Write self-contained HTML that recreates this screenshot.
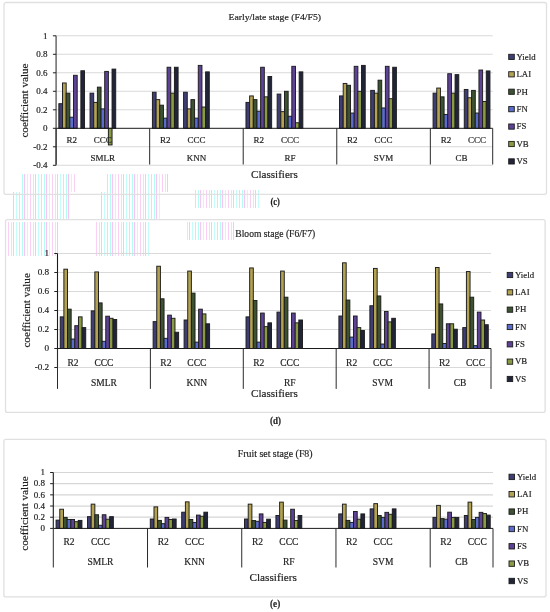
<!DOCTYPE html>
<html><head><meta charset="utf-8"><title>Coefficient values by classifier</title>
<style>
html,body{margin:0;padding:0;background:#fff;}
body{width:550px;height:612px;overflow:hidden;}
svg{display:block;font-family:"Liberation Serif",serif;filter:blur(0.3px);}
text{stroke:#1e1e1e;stroke-width:0.18px;}
</style></head><body>
<svg width="550" height="612" viewBox="0 0 550 612">
<defs><pattern id="streak" x="0" y="0" width="11" height="8" patternUnits="userSpaceOnUse">
<rect x="0" y="0" width="1" height="8" fill="#b4fcf6"/><rect x="2" y="0" width="1" height="8" fill="#fcc4f2"/><rect x="5" y="0" width="1" height="8" fill="#c4fcfa"/><rect x="8" y="0" width="1" height="8" fill="#fcd0f4"/>
</pattern></defs>
<rect width="550" height="612" fill="#fff"/>
<rect x="22" y="174" width="54" height="18" fill="url(#streak)"/>
<rect x="105" y="174" width="65" height="18" fill="url(#streak)"/>
<rect x="12" y="192" width="58" height="28" fill="url(#streak)"/>
<rect x="100" y="192" width="60" height="28" fill="url(#streak)"/>
<rect x="195" y="190" width="65" height="18" fill="url(#streak)"/>
<rect x="5" y="222" width="55" height="34" fill="url(#streak)"/>
<rect x="95" y="222" width="55" height="34" fill="url(#streak)"/>
<rect x="185" y="222" width="50" height="18" fill="url(#streak)"/>
<rect x="4.00" y="2.50" width="542.50" height="191.80" rx="2" fill="none" stroke="#e0e0e0" stroke-width="1.3"/>
<text x="228.50" y="19.90" font-size="9.2" fill="#1e1e1e" textLength="92.50" lengthAdjust="spacingAndGlyphs">Early/late stage (F4/F5)</text>
<line x1="56.1" y1="165.30" x2="492.7" y2="165.30" stroke="#d9d9d9" stroke-width="1.1"/>
<line x1="56.1" y1="146.80" x2="492.7" y2="146.80" stroke="#d9d9d9" stroke-width="1.1"/>
<line x1="56.1" y1="109.80" x2="492.7" y2="109.80" stroke="#d9d9d9" stroke-width="1.1"/>
<line x1="56.1" y1="91.30" x2="492.7" y2="91.30" stroke="#d9d9d9" stroke-width="1.1"/>
<line x1="56.1" y1="72.80" x2="492.7" y2="72.80" stroke="#d9d9d9" stroke-width="1.1"/>
<line x1="56.1" y1="54.30" x2="492.7" y2="54.30" stroke="#d9d9d9" stroke-width="1.1"/>
<line x1="56.1" y1="35.80" x2="492.7" y2="35.80" stroke="#d9d9d9" stroke-width="1.1"/>
<rect x="58.85" y="103.70" width="3.67" height="24.61" fill="#3e3e74" stroke="#1c1c1c" stroke-width="0.95"/>
<rect x="62.52" y="82.98" width="3.67" height="45.33" fill="#b2a252" stroke="#1c1c1c" stroke-width="0.95"/>
<rect x="66.19" y="93.15" width="3.67" height="35.15" fill="#3c5230" stroke="#1c1c1c" stroke-width="0.95"/>
<rect x="69.86" y="117.20" width="3.67" height="11.10" fill="#5a6ccc" stroke="#1c1c1c" stroke-width="0.95"/>
<rect x="73.53" y="75.30" width="3.67" height="53.00" fill="#5e4296" stroke="#1c1c1c" stroke-width="0.95"/>
<rect x="80.87" y="70.77" width="3.67" height="57.54" fill="#22253a" stroke="#1c1c1c" stroke-width="0.95"/>
<rect x="90.04" y="93.15" width="3.67" height="35.15" fill="#3e3e74" stroke="#1c1c1c" stroke-width="0.95"/>
<rect x="93.71" y="102.40" width="3.67" height="25.90" fill="#b2a252" stroke="#1c1c1c" stroke-width="0.95"/>
<rect x="97.38" y="87.14" width="3.67" height="41.16" fill="#3c5230" stroke="#1c1c1c" stroke-width="0.95"/>
<rect x="101.04" y="108.88" width="3.67" height="19.42" fill="#5a6ccc" stroke="#1c1c1c" stroke-width="0.95"/>
<rect x="104.71" y="71.41" width="3.67" height="56.89" fill="#5e4296" stroke="#1c1c1c" stroke-width="0.95"/>
<rect x="108.38" y="128.30" width="3.67" height="16.65" fill="#889a42" stroke="#1c1c1c" stroke-width="0.95"/>
<rect x="112.05" y="69.10" width="3.67" height="59.20" fill="#22253a" stroke="#1c1c1c" stroke-width="0.95"/>
<rect x="152.41" y="92.22" width="3.67" height="36.08" fill="#3e3e74" stroke="#1c1c1c" stroke-width="0.95"/>
<rect x="156.08" y="99.62" width="3.67" height="28.68" fill="#b2a252" stroke="#1c1c1c" stroke-width="0.95"/>
<rect x="159.75" y="105.18" width="3.67" height="23.12" fill="#3c5230" stroke="#1c1c1c" stroke-width="0.95"/>
<rect x="163.42" y="118.13" width="3.67" height="10.17" fill="#5a6ccc" stroke="#1c1c1c" stroke-width="0.95"/>
<rect x="167.08" y="67.25" width="3.67" height="61.05" fill="#5e4296" stroke="#1c1c1c" stroke-width="0.95"/>
<rect x="170.75" y="93.15" width="3.67" height="35.15" fill="#889a42" stroke="#1c1c1c" stroke-width="0.95"/>
<rect x="174.42" y="67.25" width="3.67" height="61.05" fill="#22253a" stroke="#1c1c1c" stroke-width="0.95"/>
<rect x="183.59" y="92.22" width="3.67" height="36.08" fill="#3e3e74" stroke="#1c1c1c" stroke-width="0.95"/>
<rect x="187.26" y="108.88" width="3.67" height="19.42" fill="#b2a252" stroke="#1c1c1c" stroke-width="0.95"/>
<rect x="190.93" y="99.62" width="3.67" height="28.68" fill="#3c5230" stroke="#1c1c1c" stroke-width="0.95"/>
<rect x="194.60" y="118.13" width="3.67" height="10.17" fill="#5a6ccc" stroke="#1c1c1c" stroke-width="0.95"/>
<rect x="198.27" y="65.40" width="3.67" height="62.90" fill="#5e4296" stroke="#1c1c1c" stroke-width="0.95"/>
<rect x="201.94" y="107.03" width="3.67" height="21.28" fill="#889a42" stroke="#1c1c1c" stroke-width="0.95"/>
<rect x="205.61" y="71.88" width="3.67" height="56.43" fill="#22253a" stroke="#1c1c1c" stroke-width="0.95"/>
<rect x="245.97" y="102.40" width="3.67" height="25.90" fill="#3e3e74" stroke="#1c1c1c" stroke-width="0.95"/>
<rect x="249.63" y="95.93" width="3.67" height="32.38" fill="#b2a252" stroke="#1c1c1c" stroke-width="0.95"/>
<rect x="253.30" y="99.62" width="3.67" height="28.68" fill="#3c5230" stroke="#1c1c1c" stroke-width="0.95"/>
<rect x="256.97" y="111.19" width="3.67" height="17.11" fill="#5a6ccc" stroke="#1c1c1c" stroke-width="0.95"/>
<rect x="260.64" y="67.25" width="3.67" height="61.05" fill="#5e4296" stroke="#1c1c1c" stroke-width="0.95"/>
<rect x="264.31" y="96.85" width="3.67" height="31.45" fill="#889a42" stroke="#1c1c1c" stroke-width="0.95"/>
<rect x="267.98" y="76.50" width="3.67" height="51.80" fill="#22253a" stroke="#1c1c1c" stroke-width="0.95"/>
<rect x="277.15" y="94.08" width="3.67" height="34.22" fill="#3e3e74" stroke="#1c1c1c" stroke-width="0.95"/>
<rect x="280.82" y="111.65" width="3.67" height="16.65" fill="#b2a252" stroke="#1c1c1c" stroke-width="0.95"/>
<rect x="284.49" y="91.30" width="3.67" height="37.00" fill="#3c5230" stroke="#1c1c1c" stroke-width="0.95"/>
<rect x="288.16" y="116.28" width="3.67" height="12.03" fill="#5a6ccc" stroke="#1c1c1c" stroke-width="0.95"/>
<rect x="291.83" y="66.32" width="3.67" height="61.98" fill="#5e4296" stroke="#1c1c1c" stroke-width="0.95"/>
<rect x="295.50" y="122.75" width="3.67" height="5.55" fill="#889a42" stroke="#1c1c1c" stroke-width="0.95"/>
<rect x="299.17" y="71.88" width="3.67" height="56.43" fill="#22253a" stroke="#1c1c1c" stroke-width="0.95"/>
<rect x="339.52" y="95.93" width="3.67" height="32.38" fill="#3e3e74" stroke="#1c1c1c" stroke-width="0.95"/>
<rect x="343.19" y="83.44" width="3.67" height="44.86" fill="#b2a252" stroke="#1c1c1c" stroke-width="0.95"/>
<rect x="346.86" y="85.29" width="3.67" height="43.01" fill="#3c5230" stroke="#1c1c1c" stroke-width="0.95"/>
<rect x="350.53" y="113.04" width="3.67" height="15.26" fill="#5a6ccc" stroke="#1c1c1c" stroke-width="0.95"/>
<rect x="354.20" y="66.32" width="3.67" height="61.98" fill="#5e4296" stroke="#1c1c1c" stroke-width="0.95"/>
<rect x="357.87" y="91.30" width="3.67" height="37.00" fill="#889a42" stroke="#1c1c1c" stroke-width="0.95"/>
<rect x="361.54" y="65.40" width="3.67" height="62.90" fill="#22253a" stroke="#1c1c1c" stroke-width="0.95"/>
<rect x="370.71" y="90.38" width="3.67" height="37.93" fill="#3e3e74" stroke="#1c1c1c" stroke-width="0.95"/>
<rect x="374.38" y="93.15" width="3.67" height="35.15" fill="#b2a252" stroke="#1c1c1c" stroke-width="0.95"/>
<rect x="378.05" y="80.20" width="3.67" height="48.10" fill="#3c5230" stroke="#1c1c1c" stroke-width="0.95"/>
<rect x="381.72" y="107.95" width="3.67" height="20.35" fill="#5a6ccc" stroke="#1c1c1c" stroke-width="0.95"/>
<rect x="385.38" y="66.32" width="3.67" height="61.98" fill="#5e4296" stroke="#1c1c1c" stroke-width="0.95"/>
<rect x="389.05" y="98.70" width="3.67" height="29.60" fill="#889a42" stroke="#1c1c1c" stroke-width="0.95"/>
<rect x="392.72" y="67.25" width="3.67" height="61.05" fill="#22253a" stroke="#1c1c1c" stroke-width="0.95"/>
<rect x="433.08" y="93.15" width="3.67" height="35.15" fill="#3e3e74" stroke="#1c1c1c" stroke-width="0.95"/>
<rect x="436.75" y="88.06" width="3.67" height="40.24" fill="#b2a252" stroke="#1c1c1c" stroke-width="0.95"/>
<rect x="440.42" y="96.85" width="3.67" height="31.45" fill="#3c5230" stroke="#1c1c1c" stroke-width="0.95"/>
<rect x="444.09" y="114.43" width="3.67" height="13.88" fill="#5a6ccc" stroke="#1c1c1c" stroke-width="0.95"/>
<rect x="447.76" y="73.73" width="3.67" height="54.58" fill="#5e4296" stroke="#1c1c1c" stroke-width="0.95"/>
<rect x="451.42" y="93.15" width="3.67" height="35.15" fill="#889a42" stroke="#1c1c1c" stroke-width="0.95"/>
<rect x="455.09" y="74.65" width="3.67" height="53.65" fill="#22253a" stroke="#1c1c1c" stroke-width="0.95"/>
<rect x="464.27" y="89.45" width="3.67" height="38.85" fill="#3e3e74" stroke="#1c1c1c" stroke-width="0.95"/>
<rect x="467.93" y="97.78" width="3.67" height="30.53" fill="#b2a252" stroke="#1c1c1c" stroke-width="0.95"/>
<rect x="471.60" y="90.38" width="3.67" height="37.93" fill="#3c5230" stroke="#1c1c1c" stroke-width="0.95"/>
<rect x="475.27" y="113.04" width="3.67" height="15.26" fill="#5a6ccc" stroke="#1c1c1c" stroke-width="0.95"/>
<rect x="478.94" y="70.03" width="3.67" height="58.28" fill="#5e4296" stroke="#1c1c1c" stroke-width="0.95"/>
<rect x="482.61" y="101.48" width="3.67" height="26.83" fill="#889a42" stroke="#1c1c1c" stroke-width="0.95"/>
<rect x="486.28" y="70.95" width="3.67" height="57.35" fill="#22253a" stroke="#1c1c1c" stroke-width="0.95"/>
<line x1="56.1" y1="35.80" x2="56.1" y2="165.30" stroke="#6a6a6a" stroke-width="1.5"/>
<line x1="52.90" y1="165.30" x2="56.1" y2="165.30" stroke="#222" stroke-width="1"/>
<line x1="52.90" y1="146.80" x2="56.1" y2="146.80" stroke="#222" stroke-width="1"/>
<line x1="52.90" y1="128.30" x2="56.1" y2="128.30" stroke="#222" stroke-width="1"/>
<line x1="52.90" y1="109.80" x2="56.1" y2="109.80" stroke="#222" stroke-width="1"/>
<line x1="52.90" y1="91.30" x2="56.1" y2="91.30" stroke="#222" stroke-width="1"/>
<line x1="52.90" y1="72.80" x2="56.1" y2="72.80" stroke="#222" stroke-width="1"/>
<line x1="52.90" y1="54.30" x2="56.1" y2="54.30" stroke="#222" stroke-width="1"/>
<line x1="52.90" y1="35.80" x2="56.1" y2="35.80" stroke="#222" stroke-width="1"/>
<text x="47.5" y="168.00" font-size="9" text-anchor="end" fill="#1e1e1e">-0.4</text>
<text x="47.5" y="149.50" font-size="9" text-anchor="end" fill="#1e1e1e">-0.2</text>
<text x="47.5" y="131.00" font-size="9" text-anchor="end" fill="#1e1e1e">0</text>
<text x="47.5" y="112.50" font-size="9" text-anchor="end" fill="#1e1e1e">0.2</text>
<text x="47.5" y="94.00" font-size="9" text-anchor="end" fill="#1e1e1e">0.4</text>
<text x="47.5" y="75.50" font-size="9" text-anchor="end" fill="#1e1e1e">0.6</text>
<text x="47.5" y="57.00" font-size="9" text-anchor="end" fill="#1e1e1e">0.8</text>
<text x="47.5" y="38.50" font-size="9" text-anchor="end" fill="#1e1e1e">1</text>
<line x1="56.1" y1="128.30" x2="492.7" y2="128.30" stroke="#1a1a1a" stroke-width="1"/>
<line x1="56.10" y1="128.30" x2="56.10" y2="164.5" stroke="#2a2a2a" stroke-width="1"/>
<line x1="149.66" y1="128.30" x2="149.66" y2="164.5" stroke="#2a2a2a" stroke-width="1"/>
<line x1="243.21" y1="128.30" x2="243.21" y2="164.5" stroke="#2a2a2a" stroke-width="1"/>
<line x1="336.77" y1="128.30" x2="336.77" y2="164.5" stroke="#2a2a2a" stroke-width="1"/>
<line x1="430.33" y1="128.30" x2="430.33" y2="164.5" stroke="#2a2a2a" stroke-width="1"/>
<line x1="492.70" y1="128.30" x2="492.70" y2="164.5" stroke="#2a2a2a" stroke-width="1"/>
<text x="71.69" y="143.30" font-size="9" text-anchor="middle" fill="#1e1e1e">R2</text>
<text x="102.88" y="143.30" font-size="9" text-anchor="middle" fill="#1e1e1e">CCC</text>
<text x="102.88" y="161.10" font-size="9" text-anchor="middle" fill="#1e1e1e">SMLR</text>
<text x="165.25" y="143.30" font-size="9" text-anchor="middle" fill="#1e1e1e">R2</text>
<text x="196.44" y="143.30" font-size="9" text-anchor="middle" fill="#1e1e1e">CCC</text>
<text x="196.44" y="161.10" font-size="9" text-anchor="middle" fill="#1e1e1e">KNN</text>
<text x="258.81" y="143.30" font-size="9" text-anchor="middle" fill="#1e1e1e">R2</text>
<text x="289.99" y="143.30" font-size="9" text-anchor="middle" fill="#1e1e1e">CCC</text>
<text x="289.99" y="161.10" font-size="9" text-anchor="middle" fill="#1e1e1e">RF</text>
<text x="352.36" y="143.30" font-size="9" text-anchor="middle" fill="#1e1e1e">R2</text>
<text x="383.55" y="143.30" font-size="9" text-anchor="middle" fill="#1e1e1e">CCC</text>
<text x="383.55" y="161.10" font-size="9" text-anchor="middle" fill="#1e1e1e">SVM</text>
<text x="445.92" y="143.30" font-size="9" text-anchor="middle" fill="#1e1e1e">R2</text>
<text x="477.11" y="143.30" font-size="9" text-anchor="middle" fill="#1e1e1e">CCC</text>
<text x="461.51" y="161.10" font-size="9" text-anchor="middle" fill="#1e1e1e">CB</text>
<text x="251.00" y="178.40" font-size="11" fill="#1e1e1e" textLength="46.90" lengthAdjust="spacingAndGlyphs">Classifiers</text>
<text transform="translate(28.00,137.60) rotate(-90)" x="0" y="0" font-size="10" textLength="74.10" lengthAdjust="spacingAndGlyphs" fill="#1e1e1e">coefficient value</text>
<rect x="508.70" y="54.30" width="5.6" height="5.2" fill="#3e3e74" stroke="#1c1c1c" stroke-width="0.9"/>
<text x="516.5" y="59.70" font-size="8.8" fill="#1e1e1e">Yield</text>
<rect x="508.70" y="71.72" width="5.6" height="5.2" fill="#b2a252" stroke="#1c1c1c" stroke-width="0.9"/>
<text x="516.5" y="77.12" font-size="8.8" fill="#1e1e1e">LAI</text>
<rect x="508.70" y="89.14" width="5.6" height="5.2" fill="#3c5230" stroke="#1c1c1c" stroke-width="0.9"/>
<text x="516.5" y="94.54" font-size="8.8" fill="#1e1e1e">PH</text>
<rect x="508.70" y="106.56" width="5.6" height="5.2" fill="#5a6ccc" stroke="#1c1c1c" stroke-width="0.9"/>
<text x="516.5" y="111.96" font-size="8.8" fill="#1e1e1e">FN</text>
<rect x="508.70" y="123.98" width="5.6" height="5.2" fill="#5e4296" stroke="#1c1c1c" stroke-width="0.9"/>
<text x="516.5" y="129.38" font-size="8.8" fill="#1e1e1e">FS</text>
<rect x="508.70" y="141.40" width="5.6" height="5.2" fill="#889a42" stroke="#1c1c1c" stroke-width="0.9"/>
<text x="516.5" y="146.80" font-size="8.8" fill="#1e1e1e">VB</text>
<rect x="508.70" y="158.82" width="5.6" height="5.2" fill="#22253a" stroke="#1c1c1c" stroke-width="0.9"/>
<text x="516.5" y="164.22" font-size="8.8" fill="#1e1e1e">VS</text>
<text x="270.40" y="205.30" font-size="10.5" font-weight="bold" fill="#1e1e1e" textLength="9.50" lengthAdjust="spacingAndGlyphs">(c)</text>
<rect x="5.50" y="219.70" width="539.60" height="192.70" rx="2" fill="none" stroke="#e0e0e0" stroke-width="1.3"/>
<text x="235.30" y="237.30" font-size="9.6" fill="#1e1e1e" textLength="79.90" lengthAdjust="spacingAndGlyphs">Bloom stage (F6/F7)</text>
<line x1="57.5" y1="367.50" x2="491.0" y2="367.50" stroke="#d9d9d9" stroke-width="1.1"/>
<line x1="57.5" y1="329.50" x2="491.0" y2="329.50" stroke="#d9d9d9" stroke-width="1.1"/>
<line x1="57.5" y1="310.50" x2="491.0" y2="310.50" stroke="#d9d9d9" stroke-width="1.1"/>
<line x1="57.5" y1="291.50" x2="491.0" y2="291.50" stroke="#d9d9d9" stroke-width="1.1"/>
<line x1="57.5" y1="272.50" x2="491.0" y2="272.50" stroke="#d9d9d9" stroke-width="1.1"/>
<line x1="57.5" y1="253.50" x2="491.0" y2="253.50" stroke="#d9d9d9" stroke-width="1.1"/>
<rect x="60.23" y="316.87" width="3.64" height="31.63" fill="#3e3e74" stroke="#1c1c1c" stroke-width="0.95"/>
<rect x="63.88" y="269.18" width="3.64" height="79.32" fill="#b2a252" stroke="#1c1c1c" stroke-width="0.95"/>
<rect x="67.52" y="309.17" width="3.64" height="39.33" fill="#3c5230" stroke="#1c1c1c" stroke-width="0.95"/>
<rect x="71.16" y="339.00" width="3.64" height="9.50" fill="#5a6ccc" stroke="#1c1c1c" stroke-width="0.95"/>
<rect x="74.80" y="325.70" width="3.64" height="22.80" fill="#5e4296" stroke="#1c1c1c" stroke-width="0.95"/>
<rect x="78.45" y="316.87" width="3.64" height="31.63" fill="#889a42" stroke="#1c1c1c" stroke-width="0.95"/>
<rect x="82.09" y="327.60" width="3.64" height="20.90" fill="#22253a" stroke="#1c1c1c" stroke-width="0.95"/>
<rect x="91.20" y="310.88" width="3.64" height="37.62" fill="#3e3e74" stroke="#1c1c1c" stroke-width="0.95"/>
<rect x="94.84" y="271.93" width="3.64" height="76.57" fill="#b2a252" stroke="#1c1c1c" stroke-width="0.95"/>
<rect x="98.48" y="302.90" width="3.64" height="45.60" fill="#3c5230" stroke="#1c1c1c" stroke-width="0.95"/>
<rect x="102.13" y="341.28" width="3.64" height="7.22" fill="#5a6ccc" stroke="#1c1c1c" stroke-width="0.95"/>
<rect x="105.77" y="316.20" width="3.64" height="32.30" fill="#5e4296" stroke="#1c1c1c" stroke-width="0.95"/>
<rect x="109.41" y="318.29" width="3.64" height="30.21" fill="#889a42" stroke="#1c1c1c" stroke-width="0.95"/>
<rect x="113.05" y="319.52" width="3.64" height="28.98" fill="#22253a" stroke="#1c1c1c" stroke-width="0.95"/>
<rect x="153.12" y="321.62" width="3.64" height="26.88" fill="#3e3e74" stroke="#1c1c1c" stroke-width="0.95"/>
<rect x="156.77" y="266.23" width="3.64" height="82.27" fill="#b2a252" stroke="#1c1c1c" stroke-width="0.95"/>
<rect x="160.41" y="298.81" width="3.64" height="49.69" fill="#3c5230" stroke="#1c1c1c" stroke-width="0.95"/>
<rect x="164.05" y="338.33" width="3.64" height="10.17" fill="#5a6ccc" stroke="#1c1c1c" stroke-width="0.95"/>
<rect x="167.70" y="315.15" width="3.64" height="33.35" fill="#5e4296" stroke="#1c1c1c" stroke-width="0.95"/>
<rect x="171.34" y="318.29" width="3.64" height="30.21" fill="#889a42" stroke="#1c1c1c" stroke-width="0.95"/>
<rect x="174.98" y="332.25" width="3.64" height="16.25" fill="#22253a" stroke="#1c1c1c" stroke-width="0.95"/>
<rect x="184.09" y="320.00" width="3.64" height="28.50" fill="#3e3e74" stroke="#1c1c1c" stroke-width="0.95"/>
<rect x="187.73" y="271.07" width="3.64" height="77.43" fill="#b2a252" stroke="#1c1c1c" stroke-width="0.95"/>
<rect x="191.38" y="293.12" width="3.64" height="55.38" fill="#3c5230" stroke="#1c1c1c" stroke-width="0.95"/>
<rect x="195.02" y="342.13" width="3.64" height="6.37" fill="#5a6ccc" stroke="#1c1c1c" stroke-width="0.95"/>
<rect x="198.66" y="309.17" width="3.64" height="39.33" fill="#5e4296" stroke="#1c1c1c" stroke-width="0.95"/>
<rect x="202.30" y="313.92" width="3.64" height="34.58" fill="#889a42" stroke="#1c1c1c" stroke-width="0.95"/>
<rect x="205.95" y="323.80" width="3.64" height="24.70" fill="#22253a" stroke="#1c1c1c" stroke-width="0.95"/>
<rect x="246.02" y="316.87" width="3.64" height="31.63" fill="#3e3e74" stroke="#1c1c1c" stroke-width="0.95"/>
<rect x="249.66" y="267.94" width="3.64" height="80.56" fill="#b2a252" stroke="#1c1c1c" stroke-width="0.95"/>
<rect x="253.30" y="300.52" width="3.64" height="47.98" fill="#3c5230" stroke="#1c1c1c" stroke-width="0.95"/>
<rect x="256.95" y="342.13" width="3.64" height="6.37" fill="#5a6ccc" stroke="#1c1c1c" stroke-width="0.95"/>
<rect x="260.59" y="313.06" width="3.64" height="35.44" fill="#5e4296" stroke="#1c1c1c" stroke-width="0.95"/>
<rect x="264.23" y="326.65" width="3.64" height="21.85" fill="#889a42" stroke="#1c1c1c" stroke-width="0.95"/>
<rect x="267.88" y="322.85" width="3.64" height="25.65" fill="#22253a" stroke="#1c1c1c" stroke-width="0.95"/>
<rect x="276.98" y="312.12" width="3.64" height="36.38" fill="#3e3e74" stroke="#1c1c1c" stroke-width="0.95"/>
<rect x="280.62" y="271.07" width="3.64" height="77.43" fill="#b2a252" stroke="#1c1c1c" stroke-width="0.95"/>
<rect x="284.27" y="297.20" width="3.64" height="51.30" fill="#3c5230" stroke="#1c1c1c" stroke-width="0.95"/>
<rect x="287.91" y="348.02" width="3.64" height="0.48" fill="#5a6ccc" stroke="#1c1c1c" stroke-width="0.95"/>
<rect x="291.55" y="313.06" width="3.64" height="35.44" fill="#5e4296" stroke="#1c1c1c" stroke-width="0.95"/>
<rect x="295.20" y="322.85" width="3.64" height="25.65" fill="#889a42" stroke="#1c1c1c" stroke-width="0.95"/>
<rect x="298.84" y="320.00" width="3.64" height="28.50" fill="#22253a" stroke="#1c1c1c" stroke-width="0.95"/>
<rect x="338.91" y="316.01" width="3.64" height="32.49" fill="#3e3e74" stroke="#1c1c1c" stroke-width="0.95"/>
<rect x="342.55" y="262.81" width="3.64" height="85.69" fill="#b2a252" stroke="#1c1c1c" stroke-width="0.95"/>
<rect x="346.20" y="300.05" width="3.64" height="48.45" fill="#3c5230" stroke="#1c1c1c" stroke-width="0.95"/>
<rect x="349.84" y="337.10" width="3.64" height="11.40" fill="#5a6ccc" stroke="#1c1c1c" stroke-width="0.95"/>
<rect x="353.48" y="316.01" width="3.64" height="32.49" fill="#5e4296" stroke="#1c1c1c" stroke-width="0.95"/>
<rect x="357.12" y="327.60" width="3.64" height="20.90" fill="#889a42" stroke="#1c1c1c" stroke-width="0.95"/>
<rect x="360.77" y="330.45" width="3.64" height="18.05" fill="#22253a" stroke="#1c1c1c" stroke-width="0.95"/>
<rect x="369.88" y="305.75" width="3.64" height="42.75" fill="#3e3e74" stroke="#1c1c1c" stroke-width="0.95"/>
<rect x="373.52" y="268.42" width="3.64" height="80.08" fill="#b2a252" stroke="#1c1c1c" stroke-width="0.95"/>
<rect x="377.16" y="295.96" width="3.64" height="52.54" fill="#3c5230" stroke="#1c1c1c" stroke-width="0.95"/>
<rect x="380.80" y="344.04" width="3.64" height="4.46" fill="#5a6ccc" stroke="#1c1c1c" stroke-width="0.95"/>
<rect x="384.45" y="311.45" width="3.64" height="37.05" fill="#5e4296" stroke="#1c1c1c" stroke-width="0.95"/>
<rect x="388.09" y="321.90" width="3.64" height="26.60" fill="#889a42" stroke="#1c1c1c" stroke-width="0.95"/>
<rect x="391.73" y="318.29" width="3.64" height="30.21" fill="#22253a" stroke="#1c1c1c" stroke-width="0.95"/>
<rect x="431.80" y="333.96" width="3.64" height="14.54" fill="#3e3e74" stroke="#1c1c1c" stroke-width="0.95"/>
<rect x="435.45" y="267.47" width="3.64" height="81.03" fill="#b2a252" stroke="#1c1c1c" stroke-width="0.95"/>
<rect x="439.09" y="303.94" width="3.64" height="44.56" fill="#3c5230" stroke="#1c1c1c" stroke-width="0.95"/>
<rect x="442.73" y="343.46" width="3.64" height="5.04" fill="#5a6ccc" stroke="#1c1c1c" stroke-width="0.95"/>
<rect x="446.37" y="323.80" width="3.64" height="24.70" fill="#5e4296" stroke="#1c1c1c" stroke-width="0.95"/>
<rect x="450.02" y="323.80" width="3.64" height="24.70" fill="#889a42" stroke="#1c1c1c" stroke-width="0.95"/>
<rect x="453.66" y="329.21" width="3.64" height="19.29" fill="#22253a" stroke="#1c1c1c" stroke-width="0.95"/>
<rect x="462.77" y="327.60" width="3.64" height="20.90" fill="#3e3e74" stroke="#1c1c1c" stroke-width="0.95"/>
<rect x="466.41" y="271.55" width="3.64" height="76.95" fill="#b2a252" stroke="#1c1c1c" stroke-width="0.95"/>
<rect x="470.05" y="297.20" width="3.64" height="51.30" fill="#3c5230" stroke="#1c1c1c" stroke-width="0.95"/>
<rect x="473.70" y="345.65" width="3.64" height="2.85" fill="#5a6ccc" stroke="#1c1c1c" stroke-width="0.95"/>
<rect x="477.34" y="312.12" width="3.64" height="36.38" fill="#5e4296" stroke="#1c1c1c" stroke-width="0.95"/>
<rect x="480.98" y="320.00" width="3.64" height="28.50" fill="#889a42" stroke="#1c1c1c" stroke-width="0.95"/>
<rect x="484.62" y="324.75" width="3.64" height="23.75" fill="#22253a" stroke="#1c1c1c" stroke-width="0.95"/>
<line x1="57.5" y1="253.50" x2="57.5" y2="367.50" stroke="#1a1a1a" stroke-width="1.1"/>
<line x1="54.30" y1="367.50" x2="57.5" y2="367.50" stroke="#222" stroke-width="1"/>
<line x1="54.30" y1="348.50" x2="57.5" y2="348.50" stroke="#222" stroke-width="1"/>
<line x1="54.30" y1="329.50" x2="57.5" y2="329.50" stroke="#222" stroke-width="1"/>
<line x1="54.30" y1="310.50" x2="57.5" y2="310.50" stroke="#222" stroke-width="1"/>
<line x1="54.30" y1="291.50" x2="57.5" y2="291.50" stroke="#222" stroke-width="1"/>
<line x1="54.30" y1="272.50" x2="57.5" y2="272.50" stroke="#222" stroke-width="1"/>
<line x1="54.30" y1="253.50" x2="57.5" y2="253.50" stroke="#222" stroke-width="1"/>
<text x="49.2" y="370.40" font-size="9.2" text-anchor="end" fill="#1e1e1e">-0.2</text>
<text x="49.2" y="351.40" font-size="9.2" text-anchor="end" fill="#1e1e1e">0</text>
<text x="49.2" y="332.40" font-size="9.2" text-anchor="end" fill="#1e1e1e">0.2</text>
<text x="49.2" y="313.40" font-size="9.2" text-anchor="end" fill="#1e1e1e">0.4</text>
<text x="49.2" y="294.40" font-size="9.2" text-anchor="end" fill="#1e1e1e">0.6</text>
<text x="49.2" y="275.40" font-size="9.2" text-anchor="end" fill="#1e1e1e">0.8</text>
<text x="49.2" y="256.40" font-size="9.2" text-anchor="end" fill="#1e1e1e">1</text>
<line x1="57.5" y1="348.50" x2="491.0" y2="348.50" stroke="#1a1a1a" stroke-width="1"/>
<line x1="57.50" y1="348.50" x2="57.50" y2="388.9" stroke="#2a2a2a" stroke-width="1"/>
<line x1="150.39" y1="348.50" x2="150.39" y2="388.9" stroke="#2a2a2a" stroke-width="1"/>
<line x1="243.29" y1="348.50" x2="243.29" y2="388.9" stroke="#2a2a2a" stroke-width="1"/>
<line x1="336.18" y1="348.50" x2="336.18" y2="388.9" stroke="#2a2a2a" stroke-width="1"/>
<line x1="429.07" y1="348.50" x2="429.07" y2="388.9" stroke="#2a2a2a" stroke-width="1"/>
<line x1="491.00" y1="348.50" x2="491.00" y2="388.9" stroke="#2a2a2a" stroke-width="1"/>
<text x="72.98" y="365.50" font-size="9.5" text-anchor="middle" fill="#1e1e1e">R2</text>
<text x="103.95" y="365.50" font-size="9.5" text-anchor="middle" fill="#1e1e1e">CCC</text>
<text x="103.95" y="385.80" font-size="9.5" text-anchor="middle" fill="#1e1e1e">SMLR</text>
<text x="165.88" y="365.50" font-size="9.5" text-anchor="middle" fill="#1e1e1e">R2</text>
<text x="196.84" y="365.50" font-size="9.5" text-anchor="middle" fill="#1e1e1e">CCC</text>
<text x="196.84" y="385.80" font-size="9.5" text-anchor="middle" fill="#1e1e1e">KNN</text>
<text x="258.77" y="365.50" font-size="9.5" text-anchor="middle" fill="#1e1e1e">R2</text>
<text x="289.73" y="365.50" font-size="9.5" text-anchor="middle" fill="#1e1e1e">CCC</text>
<text x="289.73" y="385.80" font-size="9.5" text-anchor="middle" fill="#1e1e1e">RF</text>
<text x="351.66" y="365.50" font-size="9.5" text-anchor="middle" fill="#1e1e1e">R2</text>
<text x="382.62" y="365.50" font-size="9.5" text-anchor="middle" fill="#1e1e1e">CCC</text>
<text x="382.62" y="385.80" font-size="9.5" text-anchor="middle" fill="#1e1e1e">SVM</text>
<text x="444.55" y="365.50" font-size="9.5" text-anchor="middle" fill="#1e1e1e">R2</text>
<text x="475.52" y="365.50" font-size="9.5" text-anchor="middle" fill="#1e1e1e">CCC</text>
<text x="460.04" y="385.80" font-size="9.5" text-anchor="middle" fill="#1e1e1e">CB</text>
<text x="251.00" y="396.70" font-size="11" fill="#1e1e1e" textLength="46.90" lengthAdjust="spacingAndGlyphs">Classifiers</text>
<text transform="translate(29.80,347.60) rotate(-90)" x="0" y="0" font-size="10.8" textLength="74.50" lengthAdjust="spacingAndGlyphs" fill="#1e1e1e">coefficient value</text>
<rect x="507.20" y="272.40" width="5.5" height="5.2" fill="#3e3e74" stroke="#1c1c1c" stroke-width="0.9"/>
<text x="515.0" y="277.60" font-size="8.8" fill="#1e1e1e">Yield</text>
<rect x="507.20" y="289.73" width="5.5" height="5.2" fill="#b2a252" stroke="#1c1c1c" stroke-width="0.9"/>
<text x="515.0" y="294.93" font-size="8.8" fill="#1e1e1e">LAI</text>
<rect x="507.20" y="307.06" width="5.5" height="5.2" fill="#3c5230" stroke="#1c1c1c" stroke-width="0.9"/>
<text x="515.0" y="312.26" font-size="8.8" fill="#1e1e1e">PH</text>
<rect x="507.20" y="324.39" width="5.5" height="5.2" fill="#5a6ccc" stroke="#1c1c1c" stroke-width="0.9"/>
<text x="515.0" y="329.59" font-size="8.8" fill="#1e1e1e">FN</text>
<rect x="507.20" y="341.72" width="5.5" height="5.2" fill="#5e4296" stroke="#1c1c1c" stroke-width="0.9"/>
<text x="515.0" y="346.92" font-size="8.8" fill="#1e1e1e">FS</text>
<rect x="507.20" y="359.05" width="5.5" height="5.2" fill="#889a42" stroke="#1c1c1c" stroke-width="0.9"/>
<text x="515.0" y="364.25" font-size="8.8" fill="#1e1e1e">VB</text>
<rect x="507.20" y="376.38" width="5.5" height="5.2" fill="#22253a" stroke="#1c1c1c" stroke-width="0.9"/>
<text x="515.0" y="381.58" font-size="8.8" fill="#1e1e1e">VS</text>
<text x="270.00" y="423.50" font-size="10.5" font-weight="bold" fill="#1e1e1e" textLength="11.00" lengthAdjust="spacingAndGlyphs">(d)</text>
<rect x="3.90" y="439.30" width="542.10" height="157.60" rx="2" fill="none" stroke="#e0e0e0" stroke-width="1.3"/>
<text x="237.80" y="456.60" font-size="9.8" fill="#1e1e1e" textLength="74.80" lengthAdjust="spacingAndGlyphs">Fruit set stage (F8)</text>
<line x1="53.3" y1="517.22" x2="493.0" y2="517.22" stroke="#d6d6d6" stroke-width="1.2"/>
<line x1="53.3" y1="506.04" x2="493.0" y2="506.04" stroke="#d6d6d6" stroke-width="1.2"/>
<line x1="53.3" y1="494.86" x2="493.0" y2="494.86" stroke="#d6d6d6" stroke-width="1.2"/>
<line x1="53.3" y1="483.68" x2="493.0" y2="483.68" stroke="#d6d6d6" stroke-width="1.2"/>
<line x1="53.3" y1="472.50" x2="493.0" y2="472.50" stroke="#d6d6d6" stroke-width="1.2"/>
<rect x="56.07" y="520.13" width="3.69" height="8.27" fill="#3e3e74" stroke="#1c1c1c" stroke-width="0.95"/>
<rect x="59.77" y="509.23" width="3.69" height="19.17" fill="#b2a252" stroke="#1c1c1c" stroke-width="0.95"/>
<rect x="63.46" y="517.39" width="3.69" height="11.01" fill="#3c5230" stroke="#1c1c1c" stroke-width="0.95"/>
<rect x="67.16" y="519.46" width="3.69" height="8.94" fill="#5a6ccc" stroke="#1c1c1c" stroke-width="0.95"/>
<rect x="70.85" y="519.46" width="3.69" height="8.94" fill="#5e4296" stroke="#1c1c1c" stroke-width="0.95"/>
<rect x="74.55" y="521.69" width="3.69" height="6.71" fill="#889a42" stroke="#1c1c1c" stroke-width="0.95"/>
<rect x="78.24" y="520.41" width="3.69" height="7.99" fill="#22253a" stroke="#1c1c1c" stroke-width="0.95"/>
<rect x="87.48" y="516.66" width="3.69" height="11.74" fill="#3e3e74" stroke="#1c1c1c" stroke-width="0.95"/>
<rect x="91.17" y="504.14" width="3.69" height="24.26" fill="#b2a252" stroke="#1c1c1c" stroke-width="0.95"/>
<rect x="94.87" y="514.76" width="3.69" height="13.64" fill="#3c5230" stroke="#1c1c1c" stroke-width="0.95"/>
<rect x="98.56" y="525.27" width="3.69" height="3.13" fill="#5a6ccc" stroke="#1c1c1c" stroke-width="0.95"/>
<rect x="102.26" y="514.76" width="3.69" height="13.64" fill="#5e4296" stroke="#1c1c1c" stroke-width="0.95"/>
<rect x="105.95" y="519.18" width="3.69" height="9.22" fill="#889a42" stroke="#1c1c1c" stroke-width="0.95"/>
<rect x="109.65" y="516.66" width="3.69" height="11.74" fill="#22253a" stroke="#1c1c1c" stroke-width="0.95"/>
<rect x="150.29" y="519.01" width="3.69" height="9.39" fill="#3e3e74" stroke="#1c1c1c" stroke-width="0.95"/>
<rect x="153.99" y="506.88" width="3.69" height="21.52" fill="#b2a252" stroke="#1c1c1c" stroke-width="0.95"/>
<rect x="157.68" y="520.41" width="3.69" height="7.99" fill="#3c5230" stroke="#1c1c1c" stroke-width="0.95"/>
<rect x="161.38" y="523.65" width="3.69" height="4.75" fill="#5a6ccc" stroke="#1c1c1c" stroke-width="0.95"/>
<rect x="165.07" y="517.39" width="3.69" height="11.01" fill="#5e4296" stroke="#1c1c1c" stroke-width="0.95"/>
<rect x="168.77" y="519.46" width="3.69" height="8.94" fill="#889a42" stroke="#1c1c1c" stroke-width="0.95"/>
<rect x="172.46" y="519.01" width="3.69" height="9.39" fill="#22253a" stroke="#1c1c1c" stroke-width="0.95"/>
<rect x="181.70" y="512.19" width="3.69" height="16.21" fill="#3e3e74" stroke="#1c1c1c" stroke-width="0.95"/>
<rect x="185.39" y="501.85" width="3.69" height="26.55" fill="#b2a252" stroke="#1c1c1c" stroke-width="0.95"/>
<rect x="189.09" y="519.46" width="3.69" height="8.94" fill="#3c5230" stroke="#1c1c1c" stroke-width="0.95"/>
<rect x="192.78" y="522.42" width="3.69" height="5.98" fill="#5a6ccc" stroke="#1c1c1c" stroke-width="0.95"/>
<rect x="196.48" y="515.10" width="3.69" height="13.30" fill="#5e4296" stroke="#1c1c1c" stroke-width="0.95"/>
<rect x="200.17" y="516.27" width="3.69" height="12.13" fill="#889a42" stroke="#1c1c1c" stroke-width="0.95"/>
<rect x="203.87" y="512.19" width="3.69" height="16.21" fill="#22253a" stroke="#1c1c1c" stroke-width="0.95"/>
<rect x="244.51" y="519.01" width="3.69" height="9.39" fill="#3e3e74" stroke="#1c1c1c" stroke-width="0.95"/>
<rect x="248.21" y="504.14" width="3.69" height="24.26" fill="#b2a252" stroke="#1c1c1c" stroke-width="0.95"/>
<rect x="251.90" y="520.57" width="3.69" height="7.83" fill="#3c5230" stroke="#1c1c1c" stroke-width="0.95"/>
<rect x="255.60" y="521.30" width="3.69" height="7.10" fill="#5a6ccc" stroke="#1c1c1c" stroke-width="0.95"/>
<rect x="259.29" y="513.92" width="3.69" height="14.48" fill="#5e4296" stroke="#1c1c1c" stroke-width="0.95"/>
<rect x="262.99" y="522.42" width="3.69" height="5.98" fill="#889a42" stroke="#1c1c1c" stroke-width="0.95"/>
<rect x="266.68" y="519.18" width="3.69" height="9.22" fill="#22253a" stroke="#1c1c1c" stroke-width="0.95"/>
<rect x="275.92" y="515.49" width="3.69" height="12.91" fill="#3e3e74" stroke="#1c1c1c" stroke-width="0.95"/>
<rect x="279.62" y="502.13" width="3.69" height="26.27" fill="#b2a252" stroke="#1c1c1c" stroke-width="0.95"/>
<rect x="283.31" y="520.13" width="3.69" height="8.27" fill="#3c5230" stroke="#1c1c1c" stroke-width="0.95"/>
<rect x="290.70" y="509.23" width="3.69" height="19.17" fill="#5e4296" stroke="#1c1c1c" stroke-width="0.95"/>
<rect x="294.40" y="520.57" width="3.69" height="7.83" fill="#889a42" stroke="#1c1c1c" stroke-width="0.95"/>
<rect x="298.09" y="515.49" width="3.69" height="12.91" fill="#22253a" stroke="#1c1c1c" stroke-width="0.95"/>
<rect x="338.74" y="513.92" width="3.69" height="14.48" fill="#3e3e74" stroke="#1c1c1c" stroke-width="0.95"/>
<rect x="342.43" y="504.14" width="3.69" height="24.26" fill="#b2a252" stroke="#1c1c1c" stroke-width="0.95"/>
<rect x="346.13" y="520.41" width="3.69" height="7.99" fill="#3c5230" stroke="#1c1c1c" stroke-width="0.95"/>
<rect x="349.82" y="522.42" width="3.69" height="5.98" fill="#5a6ccc" stroke="#1c1c1c" stroke-width="0.95"/>
<rect x="353.52" y="511.52" width="3.69" height="16.88" fill="#5e4296" stroke="#1c1c1c" stroke-width="0.95"/>
<rect x="357.21" y="519.18" width="3.69" height="9.22" fill="#889a42" stroke="#1c1c1c" stroke-width="0.95"/>
<rect x="360.91" y="513.92" width="3.69" height="14.48" fill="#22253a" stroke="#1c1c1c" stroke-width="0.95"/>
<rect x="370.14" y="508.89" width="3.69" height="19.51" fill="#3e3e74" stroke="#1c1c1c" stroke-width="0.95"/>
<rect x="373.84" y="503.64" width="3.69" height="24.76" fill="#b2a252" stroke="#1c1c1c" stroke-width="0.95"/>
<rect x="377.53" y="515.49" width="3.69" height="12.91" fill="#3c5230" stroke="#1c1c1c" stroke-width="0.95"/>
<rect x="381.23" y="517.39" width="3.69" height="11.01" fill="#5a6ccc" stroke="#1c1c1c" stroke-width="0.95"/>
<rect x="384.92" y="512.36" width="3.69" height="16.04" fill="#5e4296" stroke="#1c1c1c" stroke-width="0.95"/>
<rect x="388.62" y="514.26" width="3.69" height="14.14" fill="#889a42" stroke="#1c1c1c" stroke-width="0.95"/>
<rect x="392.31" y="508.89" width="3.69" height="19.51" fill="#22253a" stroke="#1c1c1c" stroke-width="0.95"/>
<rect x="432.96" y="517.39" width="3.69" height="11.01" fill="#3e3e74" stroke="#1c1c1c" stroke-width="0.95"/>
<rect x="436.65" y="505.37" width="3.69" height="23.03" fill="#b2a252" stroke="#1c1c1c" stroke-width="0.95"/>
<rect x="440.35" y="518.62" width="3.69" height="9.78" fill="#3c5230" stroke="#1c1c1c" stroke-width="0.95"/>
<rect x="444.04" y="519.18" width="3.69" height="9.22" fill="#5a6ccc" stroke="#1c1c1c" stroke-width="0.95"/>
<rect x="447.74" y="512.19" width="3.69" height="16.21" fill="#5e4296" stroke="#1c1c1c" stroke-width="0.95"/>
<rect x="451.43" y="517.39" width="3.69" height="11.01" fill="#889a42" stroke="#1c1c1c" stroke-width="0.95"/>
<rect x="455.13" y="517.39" width="3.69" height="11.01" fill="#22253a" stroke="#1c1c1c" stroke-width="0.95"/>
<rect x="464.36" y="515.49" width="3.69" height="12.91" fill="#3e3e74" stroke="#1c1c1c" stroke-width="0.95"/>
<rect x="468.06" y="502.13" width="3.69" height="26.27" fill="#b2a252" stroke="#1c1c1c" stroke-width="0.95"/>
<rect x="471.75" y="519.46" width="3.69" height="8.94" fill="#3c5230" stroke="#1c1c1c" stroke-width="0.95"/>
<rect x="475.45" y="517.39" width="3.69" height="11.01" fill="#5a6ccc" stroke="#1c1c1c" stroke-width="0.95"/>
<rect x="479.14" y="512.36" width="3.69" height="16.04" fill="#5e4296" stroke="#1c1c1c" stroke-width="0.95"/>
<rect x="482.84" y="513.59" width="3.69" height="14.81" fill="#889a42" stroke="#1c1c1c" stroke-width="0.95"/>
<rect x="486.53" y="515.10" width="3.69" height="13.30" fill="#22253a" stroke="#1c1c1c" stroke-width="0.95"/>
<line x1="53.3" y1="472.50" x2="53.3" y2="528.40" stroke="#1a1a1a" stroke-width="1.1"/>
<line x1="50.10" y1="528.40" x2="53.3" y2="528.40" stroke="#222" stroke-width="1"/>
<line x1="50.10" y1="517.22" x2="53.3" y2="517.22" stroke="#222" stroke-width="1"/>
<line x1="50.10" y1="506.04" x2="53.3" y2="506.04" stroke="#222" stroke-width="1"/>
<line x1="50.10" y1="494.86" x2="53.3" y2="494.86" stroke="#222" stroke-width="1"/>
<line x1="50.10" y1="483.68" x2="53.3" y2="483.68" stroke="#222" stroke-width="1"/>
<line x1="50.10" y1="472.50" x2="53.3" y2="472.50" stroke="#222" stroke-width="1"/>
<text x="45.1" y="531.20" font-size="9" text-anchor="end" fill="#1e1e1e">0</text>
<text x="45.1" y="520.02" font-size="9" text-anchor="end" fill="#1e1e1e">0.2</text>
<text x="45.1" y="508.84" font-size="9" text-anchor="end" fill="#1e1e1e">0.4</text>
<text x="45.1" y="497.66" font-size="9" text-anchor="end" fill="#1e1e1e">0.6</text>
<text x="45.1" y="486.48" font-size="9" text-anchor="end" fill="#1e1e1e">0.8</text>
<text x="45.1" y="475.30" font-size="9" text-anchor="end" fill="#1e1e1e">1</text>
<line x1="53.3" y1="528.40" x2="493.0" y2="528.40" stroke="#1a1a1a" stroke-width="1"/>
<line x1="53.30" y1="528.40" x2="53.30" y2="567.5" stroke="#2a2a2a" stroke-width="1"/>
<line x1="147.52" y1="528.40" x2="147.52" y2="567.5" stroke="#2a2a2a" stroke-width="1"/>
<line x1="241.74" y1="528.40" x2="241.74" y2="567.5" stroke="#2a2a2a" stroke-width="1"/>
<line x1="335.96" y1="528.40" x2="335.96" y2="567.5" stroke="#2a2a2a" stroke-width="1"/>
<line x1="430.19" y1="528.40" x2="430.19" y2="567.5" stroke="#2a2a2a" stroke-width="1"/>
<line x1="493.00" y1="528.40" x2="493.00" y2="567.5" stroke="#2a2a2a" stroke-width="1"/>
<text x="69.00" y="544.70" font-size="9.5" text-anchor="middle" fill="#1e1e1e">R2</text>
<text x="100.41" y="544.70" font-size="9.5" text-anchor="middle" fill="#1e1e1e">CCC</text>
<text x="100.41" y="564.90" font-size="9.5" text-anchor="middle" fill="#1e1e1e">SMLR</text>
<text x="163.22" y="544.70" font-size="9.5" text-anchor="middle" fill="#1e1e1e">R2</text>
<text x="194.63" y="544.70" font-size="9.5" text-anchor="middle" fill="#1e1e1e">CCC</text>
<text x="194.63" y="564.90" font-size="9.5" text-anchor="middle" fill="#1e1e1e">KNN</text>
<text x="257.45" y="544.70" font-size="9.5" text-anchor="middle" fill="#1e1e1e">R2</text>
<text x="288.85" y="544.70" font-size="9.5" text-anchor="middle" fill="#1e1e1e">CCC</text>
<text x="288.85" y="564.90" font-size="9.5" text-anchor="middle" fill="#1e1e1e">RF</text>
<text x="351.67" y="544.70" font-size="9.5" text-anchor="middle" fill="#1e1e1e">R2</text>
<text x="383.07" y="544.70" font-size="9.5" text-anchor="middle" fill="#1e1e1e">CCC</text>
<text x="383.07" y="564.90" font-size="9.5" text-anchor="middle" fill="#1e1e1e">SVM</text>
<text x="445.89" y="544.70" font-size="9.5" text-anchor="middle" fill="#1e1e1e">R2</text>
<text x="477.30" y="544.70" font-size="9.5" text-anchor="middle" fill="#1e1e1e">CCC</text>
<text x="461.59" y="564.90" font-size="9.5" text-anchor="middle" fill="#1e1e1e">CB</text>
<text x="249.50" y="581.20" font-size="11" fill="#1e1e1e" textLength="47.40" lengthAdjust="spacingAndGlyphs">Classifiers</text>
<text transform="translate(27.90,550.70) rotate(-90)" x="0" y="0" font-size="10" textLength="74.40" lengthAdjust="spacingAndGlyphs" fill="#1e1e1e">coefficient value</text>
<rect x="509.00" y="474.20" width="5.5" height="5.4" fill="#3e3e74" stroke="#1c1c1c" stroke-width="0.9"/>
<text x="517.0" y="479.60" font-size="8.8" fill="#1e1e1e">Yield</text>
<rect x="509.00" y="491.55" width="5.5" height="5.4" fill="#b2a252" stroke="#1c1c1c" stroke-width="0.9"/>
<text x="517.0" y="496.95" font-size="8.8" fill="#1e1e1e">LAI</text>
<rect x="509.00" y="508.90" width="5.5" height="5.4" fill="#3c5230" stroke="#1c1c1c" stroke-width="0.9"/>
<text x="517.0" y="514.30" font-size="8.8" fill="#1e1e1e">PH</text>
<rect x="509.00" y="526.25" width="5.5" height="5.4" fill="#5a6ccc" stroke="#1c1c1c" stroke-width="0.9"/>
<text x="517.0" y="531.65" font-size="8.8" fill="#1e1e1e">FN</text>
<rect x="509.00" y="543.60" width="5.5" height="5.4" fill="#5e4296" stroke="#1c1c1c" stroke-width="0.9"/>
<text x="517.0" y="549.00" font-size="8.8" fill="#1e1e1e">FS</text>
<rect x="509.00" y="560.95" width="5.5" height="5.4" fill="#889a42" stroke="#1c1c1c" stroke-width="0.9"/>
<text x="517.0" y="566.35" font-size="8.8" fill="#1e1e1e">VB</text>
<rect x="509.00" y="578.30" width="5.5" height="5.4" fill="#22253a" stroke="#1c1c1c" stroke-width="0.9"/>
<text x="517.0" y="583.70" font-size="8.8" fill="#1e1e1e">VS</text>
<text x="270.10" y="607.00" font-size="10.5" font-weight="bold" fill="#1e1e1e" textLength="10.10" lengthAdjust="spacingAndGlyphs">(e)</text>
</svg>
</body></html>
